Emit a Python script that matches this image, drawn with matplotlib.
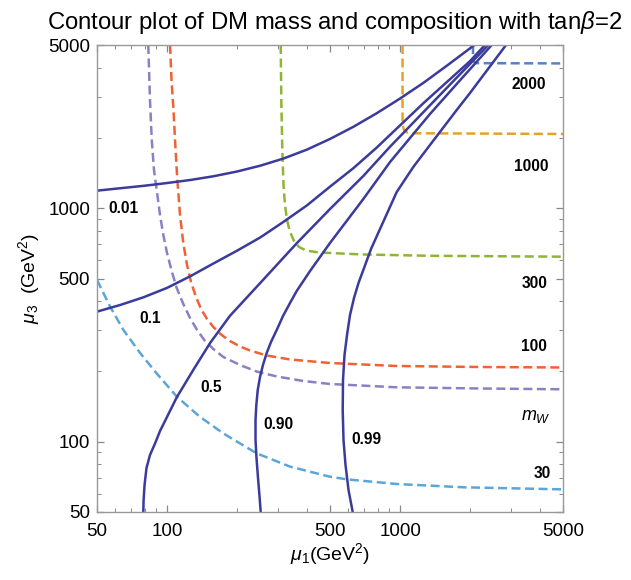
import matplotlib
matplotlib.use("Agg")
import matplotlib.pyplot as plt
from matplotlib.ticker import FixedLocator, NullFormatter

plt.rcParams['font.family'] = ['Liberation Sans', 'DejaVu Sans']
plt.rcParams['mathtext.fontset'] = 'custom'
plt.rcParams['mathtext.rm'] = 'Liberation Sans'
plt.rcParams['mathtext.it'] = 'Liberation Sans:italic'
plt.rcParams['mathtext.bf'] = 'Liberation Sans:bold'

# ---- composition contours (solid) ----
c001_x = [50, 63.1, 79.4, 100, 125.9, 158.5, 199.5, 251.2, 316.2, 398.1, 501.2, 631, 794.3, 1000, 1259, 1585, 2084]
c001_y = [1189, 1218, 1247, 1282, 1321, 1371, 1436, 1521, 1633, 1782, 1982, 2234, 2553, 2951, 3443, 4074, 5000]

c01_x = [50, 63.1, 79.4, 100, 125.9, 158.5, 199.5, 251.2, 316.2, 398.1, 501.2, 631, 794.3, 1000, 1259, 1585, 1995, 2312]
c01_y = [360.6, 385.5, 415.9, 456, 511.7, 580.8, 657.7, 749.9, 875, 1028, 1239, 1486, 1820, 2265, 2818, 3467, 4266, 5000]

c05_x = [79, 79.25, 80, 81.55, 84.4, 88.7, 93.2, 110, 129.5, 153, 186, 258, 360, 500, 695, 905, 1022, 1343, 1749, 2390]
c05_y = [50, 56.3, 65.3, 77.2, 87.7, 98.2, 111.1, 155, 203, 265, 346, 493, 708, 992, 1374, 1834, 2079, 2759, 3623, 5000]

c090_x = [252.1, 249.1, 245.5, 241.8, 239.5, 239.5, 241.4, 244.8, 250.4, 257.8, 267.5, 279.1, 295.3, 314.3,
          336.8, 359.8, 410.5, 500, 695, 905, 1343, 1749, 2472]
c090_y = [50, 58.6, 69.9, 85.2, 101.7, 123.9, 143.6, 166.5, 189.4, 213.1, 239.9, 267.4, 300.9, 345.5,
          392.7, 442, 538.4, 709.7, 1095, 1577, 2532, 3404, 5000]

c099_x = [625.8, 600.4, 582.9, 571.4, 566.9, 568.6, 577.1, 591.6, 609.3, 633.9, 662.7, 695, 749.9, 819.6,
          966.7, 1139, 1343, 1749, 1994, 2383, 2848]
c099_y = [50, 62.1, 79.5, 101.7, 136.7, 183.8, 235.2, 286.4, 348.9, 412.6, 478.4, 543.7, 668.9, 814.7,
          1173, 1502, 1865, 2634, 3114, 3946, 5000]

# ---- mass contours (dashed) ----
m30_x = [50, 56.9, 64.9, 76.5, 90.2, 110, 138, 174, 242, 337, 500, 590, 967, 1867, 5000]
m30_y = [493, 379, 301, 240, 196, 156, 128, 108.6, 89.2, 78.2, 70.8, 69, 65.9, 63.8, 62.5]

mW_x = [83, 84.4, 85.9, 87.8, 90.2, 93.2, 96.3, 99.9, 104.6, 109.9, 117.3, 125.4, 134.4, 145.4, 157.8,
        174.2, 205.5, 242.3, 295.3, 384, 500, 966.7, 2202, 5000]
mW_y = [5000, 2907, 1960, 1458, 1197, 935, 768, 643, 538.4, 455.3, 388.9, 338.7, 300.9, 270, 249.6,
        230.6, 213.1, 199.8, 190.3, 182, 176.7, 171, 169, 167.7]

m100_x = [102.9, 104.4, 106.3, 108.4, 110.6, 113.6, 117.3, 121.7, 126.6, 133, 139.8, 148.3, 157.8, 170.3,
          186.1, 205.5, 226.8, 267.5, 336.8, 500, 966.7, 2202, 5000]
m100_y = [5000, 3541, 2714, 1865, 1321, 935, 709.7, 571.2, 483.1, 416.7, 370.2, 335.4, 310, 287.9,
          270, 255.7, 245.8, 234, 225, 217.3, 211, 208.9, 207.9]

m300_x = [307.2, 309, 312.1, 315.8, 320.5, 326.9, 336.8, 350.4, 368.1, 394.5, 438.5, 500, 695, 1343, 5000]
m300_y = [5000, 2907, 1775, 1257, 1032, 890, 791, 723.8, 682.1, 659, 648.2, 643, 633.6, 625.5, 620]

m1000_x = [1024, 1024, 1024, 1039, 1070, 1158, 5000]
m1000_y = [5000, 3000, 2272, 2163, 2110, 2094, 2079]

m2000_x = [2055, 2055, 2070, 2120, 5000]
m2000_y = [5000, 4500, 4250, 4180, 4170]

# contour labels
comp_labels = ['0.01', '0.1', '0.5', '0.90', '0.99']
comp_lab_x = [65, 84.7, 154, 301, 714]
comp_lab_y = [1002, 338, 171, 119, 102]
mass_labels = ['30', r'$m_W$', '100', '300', '1000', '2000']
mass_lab_x = [4064, 3829, 3754, 3791, 3646, 3574]
mass_lab_y = [73.2, 128, 255, 474, 1506, 3394]

blue = '#3b3b9b'
solid = [(c001_x, c001_y), (c01_x, c01_y), (c05_x, c05_y), (c090_x, c090_y), (c099_x, c099_y)]
dashed = [(m30_x, m30_y, '#5aa6d8'), (mW_x, mW_y, '#8c80c4'), (m100_x, m100_y, '#f06134'),
          (m300_x, m300_y, '#8fb534'), (m1000_x, m1000_y, '#e8a126'), (m2000_x, m2000_y, '#5782c4')]

fig = plt.figure(figsize=(6.31, 5.80), dpi=100)
ax = fig.add_axes([97 / 631, 68 / 580, 466 / 631, 467 / 580])

for xs, ys, col in dashed:
    ax.plot(xs, ys, color=col, lw=1.8, linestyle=(0, (3.6, 1.8)))
for xs, ys in solid:
    ax.plot(xs, ys, color=blue, lw=1.8, solid_joinstyle='round')

for t, x, y in zip(comp_labels, comp_lab_x, comp_lab_y):
    ax.text(x, y, t, fontsize=11.2, fontweight='bold', ha='center', va='center')
for t, x, y in zip(mass_labels, mass_lab_x, mass_lab_y):
    if t.startswith('$'):
        ax.text(x, y, t, fontsize=13, ha='center', va='center')
    else:
        ax.text(x, y, t, fontsize=11.2, fontweight='bold', ha='center', va='center')

ax.set_xscale('log')
ax.set_yscale('log')
ax.set_xlim(50, 5000)
ax.set_ylim(50, 5000)

major = [50, 100, 500, 1000, 5000]
minor = [60, 70, 80, 90, 200, 300, 400, 600, 700, 800, 900, 2000, 3000, 4000]
for axis in (ax.xaxis, ax.yaxis):
    axis.set_major_locator(FixedLocator(major))
    axis.set_minor_locator(FixedLocator(minor))
    axis.set_minor_formatter(NullFormatter())
ax.set_xticklabels([str(v) for v in major])
ax.set_yticklabels([str(v) for v in major])

ax.tick_params(which='both', direction='in', top=True, right=True, color='#888888')
ax.tick_params(which='major', length=5, width=0.9, labelsize=13.5)
ax.tick_params(which='minor', length=2.8, width=0.7)
ax.tick_params(axis='x', which='major', pad=8)
ax.tick_params(axis='y', which='major', pad=5)
for s in ax.spines.values():
    s.set_color('#999999')
    s.set_linewidth(1.0)

ax.set_xlabel(r'$\mu_1$(GeV$^2$)', fontsize=14, labelpad=1)
ax.set_ylabel(r'$\mu_3$  (GeV$^2$)', fontsize=14, labelpad=4)
fig.text(0.531, 0.962, r'Contour plot of DM mass and composition with tan$\beta$=2',
         fontsize=17.2, ha='center', va='center')

fig.savefig('out.png', dpi=100)
